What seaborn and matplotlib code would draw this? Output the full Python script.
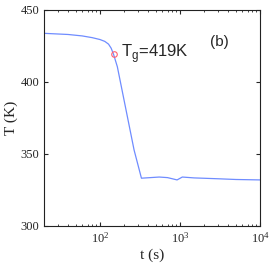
import numpy as np
import pandas as pd
import matplotlib
matplotlib.use('Agg')
import matplotlib.pyplot as plt
import seaborn as sns

# cooling curve
t_s = [20, 40, 60, 80, 100, 115, 128, 138, 148, 165, 200, 267, 330, 400, 550, 700, 920, 1070, 1500, 3000, 5000, 10000]
T_K = [433.8, 433.0, 432.0, 430.8, 429.5, 428.2, 426.3, 423.5, 419.2, 410.6, 387.5, 352.8, 333.2, 333.5, 334.0, 333.6, 332.0, 334.0, 333.4, 332.8, 332.3, 332.0]
tg_t = [148]
tg_T = [419.2]

df = pd.DataFrame({'t': t_s, 'T': T_K})

sns.set_style('ticks')
plt.rcParams['font.family'] = ['Liberation Serif', 'DejaVu Serif']

fig = plt.figure(figsize=(2.73, 2.65), dpi=100)
ax = fig.add_axes([44 / 273, 39 / 265, 216 / 273, 216 / 265])

sns.lineplot(data=df, x='t', y='T', ax=ax, color='#6f8cff', linewidth=0.9)
ax.plot(tg_t, tg_T, 'o', mfc='none', mec='#ff6070', ms=4, mew=0.8)

ax.set_xscale('log')
ax.set_xlim(20, 1e4)
ax.set_ylim(300, 450)
ax.set_yticks([300, 350, 400, 450])
ax.tick_params(direction='in', which='both', top=True, right=True, labelsize=9, length=3)
ax.tick_params(which='minor', length=1.5)
for s in ax.spines.values():
    s.set_linewidth(0.8)
    s.set_color('#222222')

ax.set_xlabel('t (s)', fontsize=11, labelpad=2)
ax.set_ylabel('T (K)', fontsize=11, labelpad=2)

ax.text(185, 417.4, r'T$_\mathregular{g}$=419K', fontsize=12, family=['Liberation Sans', 'DejaVu Sans'], va='baseline')
ax.text(2350, 425, '(b)', fontsize=11, family=['Liberation Sans', 'DejaVu Sans'], va='baseline')

fig.savefig('out.png', dpi=100)
